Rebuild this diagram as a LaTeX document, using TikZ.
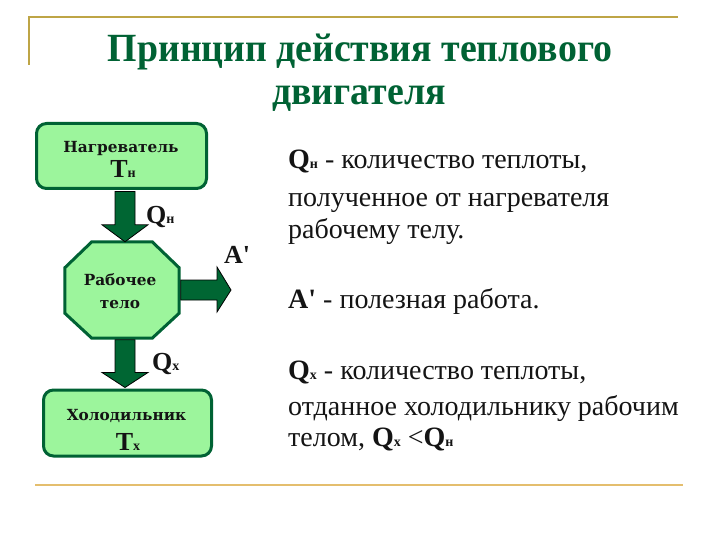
\documentclass[tikz,border=0pt]{standalone}
\usepackage{fontspec}
\setmainfont{Liberation Serif}
\newfontfamily\titlefont{Liberation Serif}[FakeStretch=0.945]
\newfontfamily\boxfont{DejaVu Serif}
\usetikzlibrary{calc}
\definecolor{dkgreen}{RGB}{0,98,52}
\definecolor{ltgreen}{RGB}{156,245,156}
\definecolor{rulegold}{RGB}{190,165,70}
\definecolor{rulegoldb}{RGB}{228,190,110}
\definecolor{arrowgreen}{RGB}{0,102,51}
\definecolor{txt}{RGB}{20,20,20}
\newcommand{\mysub}[1]{{\fontsize{14}{14}\selectfont\bfseries #1}}
\newcommand{\bigQ}[1]{{\bfseries Q\mysub{#1}}}
\tikzset{
  box/.style={draw=dkgreen, line width=3pt, fill=ltgreen, rounded corners=10pt},
  bigarrow/.style={fill=arrowgreen, draw=black, line width=0.8pt, line join=miter},
  boxtext/.style={inner sep=0pt, anchor=base, font=\boxfont\bfseries\fontsize{15.3}{15.3}\selectfont, text=txt},
  symtext/.style={inner sep=0pt, anchor=base, font=\bfseries\fontsize{26}{26}\selectfont, text=txt},
  righttext/.style={inner sep=0pt, anchor=base west, font=\fontsize{28}{28}\selectfont, text=txt},
  titletext/.style={inner sep=0pt, anchor=base, font=\titlefont\bfseries\fontsize{40}{40}\selectfont, text=dkgreen},
}
\begin{document}
\begin{tikzpicture}[x=1pt,y=-1pt]
\useasboundingbox[fill=white] (0,0) rectangle (720,540);
% rules
\draw[rulegold, line width=2pt] (29,65) -- (29,17) -- (678,17);
\draw[rulegoldb, line width=2.5pt] (35,485) -- (683,485);
% title
\node[titletext] (title1) at (360,62) {Принцип действия теплового};
\node[titletext] (title2) at (359,105) {двигателя};
% boxes
\node[box, minimum width=170pt, minimum height=65pt] (heat) at (121.5,156) {};
\node[box, minimum width=168pt, minimum height=66pt] (cold) at (127.5,423) {};
\node[minimum width=114pt, minimum height=96pt, inner sep=0pt] (body) at (122,290) {};
\draw[draw=dkgreen, line width=3pt, fill=ltgreen, line join=miter]
  ($(body.north west)+(27,0)$) -- ($(body.north east)+(-27,0)$) --
  ($(body.north east)+(0,26)$) -- ($(body.south east)+(0,-25)$) --
  ($(body.south east)+(-27,0)$) -- ($(body.south west)+(27,0)$) --
  ($(body.south west)+(0,-25)$) -- ($(body.north west)+(0,26)$) -- cycle;
% box texts
\node[boxtext] (heatname) at (121,153) {Нагреватель};
\node[symtext] (heatT) at (123,178) {Т\mysub{н}};
\node[boxtext] (body1) at (120,285) {Рабочее};
\node[boxtext] (body2) at (120,308) {тело};
\node[boxtext] (coldname) at (126.5,420) {Холодильник};
\node[symtext] (coldT) at (128,450) {Т\mysub{х}};
% arrows
\draw[bigarrow] ($(heat.south)+(-6.5,1.5)$) -- ($(heat.south)+(13.5,1.5)$) --
  ($(body.north)+(13,-17)$) -- ($(body.north)+(26,-17)$) -- ($(body.north)+(3,0)$) --
  ($(body.north)+(-20,-17)$) -- ($(body.north)+(-7,-17)$) -- cycle;
\draw[bigarrow] ($(body.south)+(-7,1.5)$) -- ($(body.south)+(13,1.5)$) --
  ($(cold.north)+(7.5,-16)$) -- ($(cold.north)+(20.5,-16)$) -- ($(cold.north)+(-2.5,-1)$) --
  ($(cold.north)+(-25.5,-16)$) -- ($(cold.north)+(-12.5,-16)$) -- cycle;
\coordinate (aend) at (231,290);
\draw[bigarrow] ($(body.east)+(1.5,-10)$) -- ($(aend)+(-14,-10)$) -- ($(aend)+(-14,-23)$) --
  (aend) -- ($(aend)+(-14,22)$) -- ($(aend)+(-14,10)$) -- ($(body.east)+(1.5,10)$) -- cycle;
% arrow labels
\node[symtext, anchor=base west] (qh) at (146,223) {Q\mysub{н}};
\node[symtext, anchor=base west] (ap) at (224,263) {A\textquotesingle};
\node[symtext, anchor=base west] (qc) at (152,370) {Q\mysub{х}};
% right text
\node[righttext] (r1) at (288,169) {\bigQ{н} - количество теплоты,};
\node[righttext] (r2) at (288,207) {полученное от нагревателя};
\node[righttext] (r3) at (288,239) {рабочему телу.};
\node[righttext] (r4) at (288,308) {{\bfseries A\textquotesingle} - полезная работа.};
\node[righttext] (r5) at (288,379) {\bigQ{х} - количество теплоты,};
\node[righttext] (r6) at (288,415) {отданное холодильнику рабочим};
\node[righttext] (r7) at (288,446) {телом, \bigQ{х} <\bigQ{н}};
\end{tikzpicture}
\end{document}
